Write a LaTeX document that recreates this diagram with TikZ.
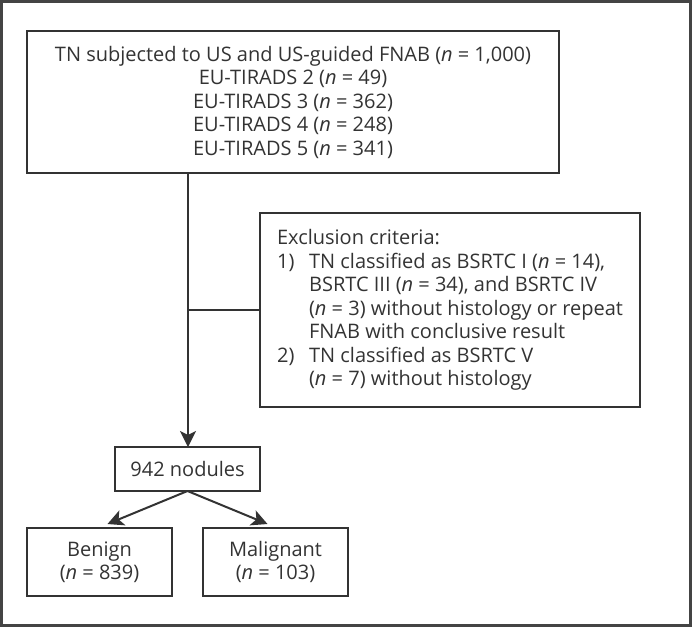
\documentclass[tikz,border=0pt]{standalone}
\usepackage{fontspec}
\setmainfont{Open Sans}
\usetikzlibrary{arrows.meta}
\definecolor{linegray}{HTML}{333333}
\definecolor{framegray}{HTML}{444444}
\begin{document}
\begin{tikzpicture}[x=1pt, y=-1pt]
\tikzset{ >={Stealth[length=16pt, width=16pt, inset=4pt]},
  box/.style={draw=linegray, line width=2pt, inner sep=0pt, outer sep=0pt,
    text=linegray, align=center, font=\fontsize{20}{23.5}\selectfont},
  link/.style={draw=linegray, line width=2pt}, }

\useasboundingbox (0,0) rectangle (692,627);
\draw [framegray, line width=3pt] (1.5,1.5) rectangle (690.5,625.5);

% boxes
\node [box, minimum width=532pt, minimum height=142pt] (TN) at (293,102)
  {TN subjected to US and US-guided FNAB (\textit{n} = 1,000)\\
   EU-TIRADS 2 (\textit{n} = 49)\\
   EU-TIRADS 3 (\textit{n} = 362)\\
   EU-TIRADS 4 (\textit{n} = 248)\\
   EU-TIRADS 5 (\textit{n} = 341)};
\node [box, minimum width=380pt, minimum height=194pt, align=left] (EX) at (450,310)
  {Exclusion criteria:\\
   \makebox[32pt][l]{1)}TN classified as BSRTC I (\textit{n} = 14),\\
   \hspace*{32pt}BSRTC III (\textit{n} = 34), and BSRTC IV\\
   \hspace*{32pt}(\textit{n} = 3) without histology or repeat\\
   \hspace*{32pt}FNAB with conclusive result\\
   \makebox[32pt][l]{2)}TN classified as BSRTC V\\
   \hspace*{32pt}(\textit{n} = 7) without histology};
\node [box, minimum width=145pt, minimum height=44pt] (N) at (187.5,469) {942 nodules};
\node [box, minimum width=145pt, minimum height=68pt] (B) at (99.5,562)
  {Benign\\(\textit{n} = 839)};
\node [box, minimum width=145pt, minimum height=68pt] (M) at (275.5,562)
  {Malignant\\(\textit{n} = 103)};

% connectors
\coordinate (S) at (188,310);
\draw [link] (TN.south -| S) -- (S);
\draw [link, ->] (S) -- (N.north -| S);
\draw [link] (S) -- (EX.west);
\draw [link, ->] (N.south) -- ([xshift=8pt, yshift=4pt]B.north);
\draw [link, ->] (N.south) -- ([xshift=-8pt, yshift=4pt]M.north);

\end{tikzpicture}
\end{document}
